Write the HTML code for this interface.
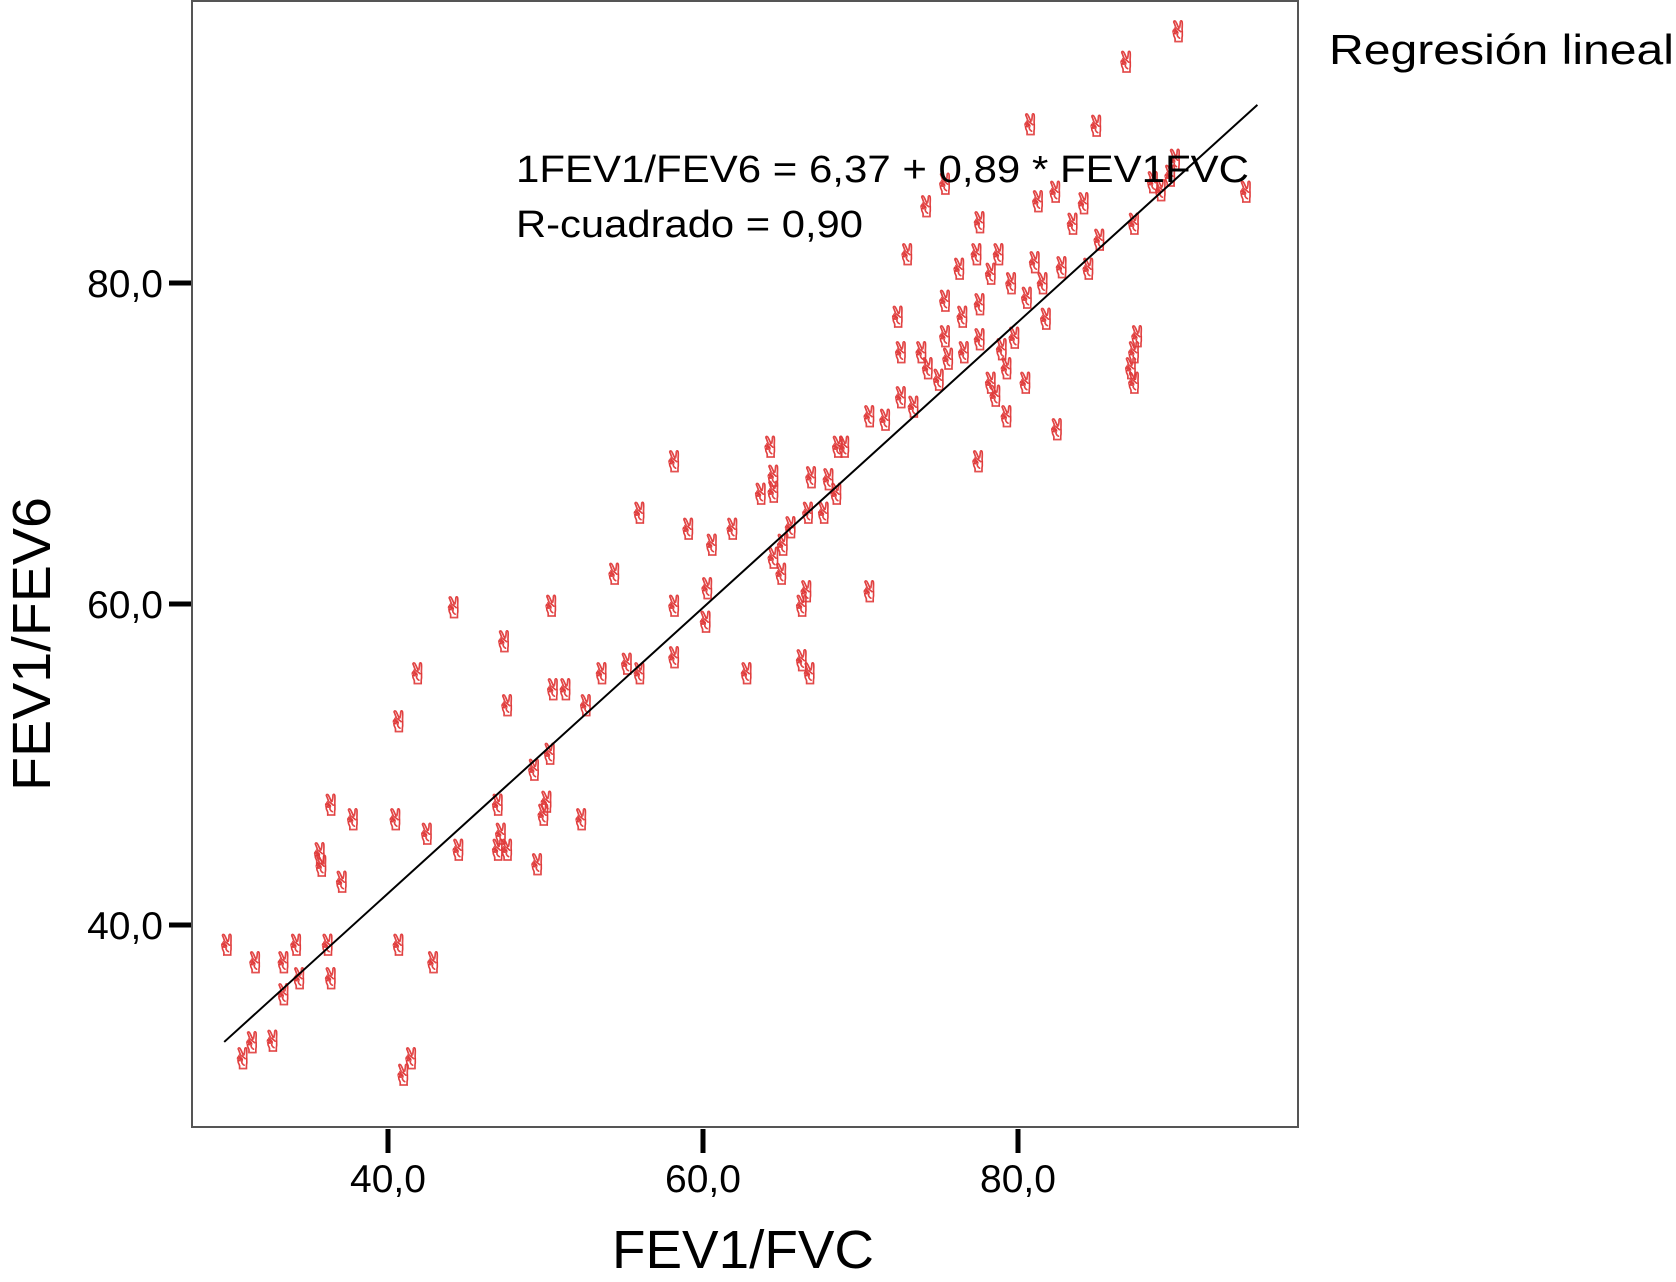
<!DOCTYPE html>
<html><head><meta charset="utf-8"><style>
html,body{margin:0;padding:0;background:#fff;}
svg{display:block;font-family:"Liberation Sans",Arial,sans-serif;}
</style></head><body>
<svg id="chart" width="1676" height="1282" viewBox="0 0 1676 1282" xmlns="http://www.w3.org/2000/svg">
<rect x="192" y="1" width="1106" height="1126" fill="#fff" stroke="#555" stroke-width="2"/>
<g id="marks"></g>
<g id="axes"></g>
<text x="516" y="182" font-size="38" textLength="733" lengthAdjust="spacingAndGlyphs">1FEV1/FEV6 = 6,37 + 0,89 * FEV1FVC</text>
<text x="516" y="237" font-size="38" textLength="347" lengthAdjust="spacingAndGlyphs">R-cuadrado = 0,90</text>
<text x="1329" y="64" font-size="42" textLength="345" lengthAdjust="spacingAndGlyphs">Regresión lineal</text>
<text x="743" y="1268" font-size="54" text-anchor="middle" textLength="262" lengthAdjust="spacingAndGlyphs">FEV1/FVC</text>
<text transform="translate(50,644) rotate(-90)" font-size="54" text-anchor="middle" textLength="294" lengthAdjust="spacingAndGlyphs">FEV1/FEV6</text>
</svg>
<script>
const xVals=[90.2,86.9,85.0,80.8,94.5,89.7,90.0,89.1,88.6,75.4,74.2,77.6,81.3,82.4,84.2,83.5,87.4,85.2,73.0,76.3,77.4,78.8,81.1,82.8,84.5,75.4,78.3,79.6,80.6,81.6,72.4,76.5,77.6,81.8,79.8,75.4,72.6,73.9,75.6,76.6,77.6,79.0,74.3,75.0,79.3,78.3,80.5,78.6,87.6,87.4,87.2,87.4,72.6,73.4,70.6,71.6,79.3,82.5,77.5,64.3,68.6,69.0,58.2,64.5,66.9,68.0,63.7,68.5,66.7,67.7,56.0,65.6,59.1,61.9,64.5,65.1,60.6,54.4,60.3,65.0,66.6,70.6,44.2,50.4,58.2,66.3,60.2,47.4,58.2,66.3,66.8,62.8,56.0,53.6,41.9,50.5,51.3,47.6,52.6,40.7,50.3,49.3,36.4,37.8,40.5,47.0,49.9,52.3,42.5,35.7,35.8,44.5,47.0,47.6,49.5,37.1,29.8,31.6,33.4,34.2,36.2,40.7,42.9,34.4,36.4,33.4,30.8,31.4,32.7,41.0,41.5,47.2,50.1,55.2,64.5];
const yVals=[95.7,93.8,89.8,89.9,85.7,86.7,87.7,85.8,86.3,86.2,84.8,83.8,85.1,85.7,85.0,83.7,83.7,82.7,81.8,80.9,81.8,81.8,81.3,81.0,80.9,78.9,80.6,80.0,79.1,80.0,77.9,77.9,78.7,77.8,76.6,76.7,75.7,75.7,75.3,75.7,76.5,75.9,74.7,74.0,74.7,73.8,73.8,73.0,76.7,75.7,74.7,73.8,72.9,72.3,71.7,71.5,71.7,70.9,68.9,69.8,69.8,69.8,68.9,68.0,67.9,67.8,66.9,66.9,65.7,65.7,65.7,64.8,64.7,64.7,62.9,63.7,63.7,61.9,61.0,61.9,60.8,60.8,59.8,59.9,59.9,59.9,58.9,57.7,56.7,56.5,55.7,55.7,55.7,55.7,55.7,54.7,54.7,53.7,53.7,52.7,50.7,49.7,47.5,46.6,46.6,47.5,46.9,46.6,45.7,44.5,43.7,44.7,44.7,44.7,43.8,42.7,38.8,37.7,37.7,38.8,38.8,38.8,37.7,36.7,36.7,35.7,31.7,32.7,32.8,30.7,31.7,45.7,47.7,56.3,67.0];
const xTicks=[40,60,80];
const yTicks=[40,60,80];
const xTickLabels=["40,0","60,0","80,0"];
const yTickLabels=["40,0","60,0","80,0"];
const fitIntercept=6.37, fitSlope=0.89, fitRange=[29.6,95.2];
const NS="http://www.w3.org/2000/svg";
function X(v){return 388+(v-40)*15.75;}
function Y(v){return 925-(v-40)*16.05;}
const marks=document.getElementById('marks'), axes=document.getElementById('axes');
xVals.forEach((xv,i)=>{
  const t=document.createElementNS(NS,'text');
  
  
  t.setAttribute('x',X(xv));t.setAttribute('y',Y(yVals[i])+11);
  t.setAttribute('font-size','29');t.setAttribute('text-anchor','middle');
  t.setAttribute('font-family','"DejaVu Sans",sans-serif');
  t.setAttribute('fill','none');t.setAttribute('stroke','#e03a3a');t.setAttribute('stroke-width','0.8');
  t.textContent='\u270C';
  marks.appendChild(t);
});
const ln=document.createElementNS(NS,'line');


ln.setAttribute('x1',X(fitRange[0]));ln.setAttribute('y1',Y(fitIntercept+fitSlope*fitRange[0]));
ln.setAttribute('x2',X(fitRange[1]));ln.setAttribute('y2',Y(fitIntercept+fitSlope*fitRange[1]));
ln.setAttribute('stroke','#000');ln.setAttribute('stroke-width','2');
marks.appendChild(ln);
xTicks.forEach((v,i)=>{
  const r=document.createElementNS(NS,'rect');
  
  
  r.setAttribute('x',X(v)-2.5);r.setAttribute('y',1129);r.setAttribute('width',5);r.setAttribute('height',24);
  axes.appendChild(r);
  const t=document.createElementNS(NS,'text');
  
  
  t.setAttribute('x',X(v));t.setAttribute('y',1192);t.setAttribute('font-size','39');t.setAttribute('text-anchor','middle');
  t.textContent=xTickLabels[i];
  axes.appendChild(t);
});
yTicks.forEach((v,i)=>{
  const r=document.createElementNS(NS,'rect');
  
  
  r.setAttribute('x',169);r.setAttribute('y',Y(v)-2.5);r.setAttribute('width',22);r.setAttribute('height',5);
  axes.appendChild(r);
  const t=document.createElementNS(NS,'text');
  
  
  t.setAttribute('x',163);t.setAttribute('y',Y(v)+14);t.setAttribute('font-size','39');t.setAttribute('text-anchor','end');
  t.textContent=yTickLabels[i];
  axes.appendChild(t);
});
</script>
</body></html>
